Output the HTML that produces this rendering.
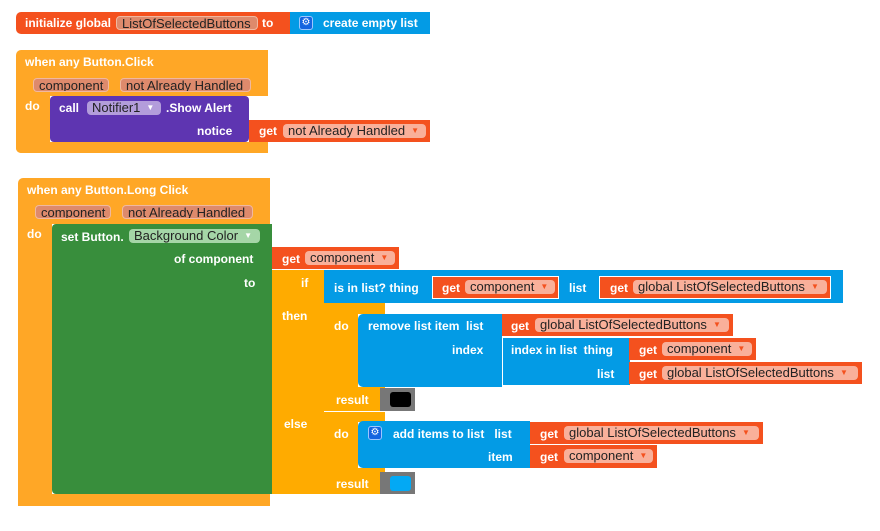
<!DOCTYPE html>
<html><head><meta charset="utf-8"><style>
body{margin:0;width:880px;height:531px;background:#fff;position:relative;overflow:hidden;font-family:"Liberation Sans",Arial,sans-serif;}
.b{position:absolute;}
.t{position:absolute;color:#fff;font-size:12px;font-weight:bold;line-height:14px;white-space:nowrap;}
.p{position:absolute;height:14px;border-radius:4px;font-size:13px;line-height:13px;color:#222;padding-left:5px;white-space:nowrap;box-sizing:border-box;overflow:hidden;}
.r{background:#F4511E;}
.bl{background:#039BE5;}
.or{background:#FFA726;}
.gd{background:#FFAB00;}
.pv{background:#5E35B1;}
.gr{background:#388E3C;}
.pr{background:#F9B09A;}
.pe{background:#DE8A6C;border:1px solid #F0B8A0;}
.ar{font-size:8px;color:#F4511E;margin-left:6px;position:relative;top:-2px}
.gear{position:absolute;width:14px;height:14px;background:#1565E0;border:1px solid #9cc6ff;border-radius:3px;box-sizing:border-box;color:#fff;font-size:10px;line-height:12px;text-align:center;}
</style></head><body>
<!-- init global -->
<div class="b r" style="left:16px;top:12px;width:274px;height:22px;border-radius:5px 0 0 5px"></div>
<div class="t" style="left:25px;top:16px">initialize global</div>
<div class="p pe" style="left:116px;top:16px;width:142px">ListOfSelectedButtons</div>
<div class="t" style="left:262px;top:16px">to</div>
<div class="b bl" style="left:290px;top:12px;width:140px;height:22px"></div>
<div class="gear" style="left:299px;top:16px">⚙</div>
<div class="t" style="left:323px;top:16px">create empty list</div>

<!-- Button.Click -->
<div class="b or" style="left:16px;top:50px;width:252px;height:46px;border-radius:5px 0 0 0"></div>
<div class="b or" style="left:16px;top:96px;width:34px;height:57px;border-radius:0 0 0 5px"></div>
<div class="b or" style="left:16px;top:142px;width:252px;height:11px;border-radius:0 0 0 5px"></div>
<div class="t" style="left:25px;top:55px">when any Button.Click</div>
<div class="p pe" style="left:33px;top:78px;width:76px">component</div>
<div class="p pe" style="left:120px;top:78px;width:131px">not Already Handled</div>
<div class="t" style="left:25px;top:99px">do</div>
<div class="b pv" style="left:50px;top:96px;width:199px;height:46px;border-radius:4px"></div>
<div class="t" style="left:59px;top:101px">call</div>
<div class="p" style="left:87px;top:101px;width:74px;background:#B39DDB">Notifier1<span class="ar" style="color:#fff">▼</span></div>
<div class="t" style="left:166px;top:101px">.Show Alert</div>
<div class="t" style="left:197px;top:124px">notice</div>
<div class="b r" style="left:249px;top:120px;width:181px;height:22px"></div>
<div class="t" style="left:259px;top:124px">get</div>
<div class="p pr" style="left:283px;top:124px;width:143px">not Already Handled<span class="ar">▼</span></div>

<!-- Long Click -->
<div class="b or" style="left:18px;top:178px;width:252px;height:46px;border-radius:5px 0 0 0"></div>
<div class="b or" style="left:18px;top:224px;width:34px;height:282px"></div>
<div class="b or" style="left:18px;top:494px;width:252px;height:12px;border-radius:0 0 0 5px"></div>
<div class="t" style="left:27px;top:183px">when any Button.Long Click</div>
<div class="p pe" style="left:35px;top:205px;width:76px">component</div>
<div class="p pe" style="left:122px;top:205px;width:131px">not Already Handled</div>
<div class="t" style="left:27px;top:227px">do</div>
<div class="b gr" style="left:52px;top:224px;width:220px;height:270px;border-radius:4px 0 0 4px"></div>
<div class="t" style="left:61px;top:230px">set Button.</div>
<div class="p" style="left:129px;top:229px;width:131px;background:#A5D6A7">Background Color<span class="ar" style="color:#fff">▼</span></div>
<div class="t" style="left:174px;top:252px">of component</div>
<div class="b r" style="left:272px;top:247px;width:127px;height:22px"></div>
<div class="t" style="left:282px;top:252px">get</div>
<div class="p pr" style="left:305px;top:251px;width:90px">component<span class="ar">▼</span></div>
<div class="t" style="left:244px;top:276px">to</div>

<!-- if -->
<div class="b gd" style="left:272px;top:270px;width:52px;height:224px"></div>
<div class="b gd" style="left:324px;top:303px;width:34px;height:191px"></div>
<div class="b gd" style="left:324px;top:303px;width:61px;height:11px"></div>
<div class="b gd" style="left:324px;top:387px;width:61px;height:35px"></div>
<div class="b gd" style="left:324px;top:468px;width:61px;height:26px"></div>
<div class="b" style="left:324px;top:411px;width:61px;height:1px;background:#fff"></div>
<div class="t" style="left:301px;top:276px">if</div>
<div class="t" style="left:282px;top:309px">then</div>
<div class="t" style="left:284px;top:417px">else</div>
<div class="b bl" style="left:324px;top:270px;width:519px;height:33px"></div>
<div class="t" style="left:334px;top:281px">is in list? thing</div>
<div class="b r" style="left:432px;top:276px;width:127px;height:23px;border:1px solid #fff;box-sizing:border-box"></div>
<div class="t" style="left:442px;top:281px">get</div>
<div class="p pr" style="left:465px;top:280px;width:90px">component<span class="ar">▼</span></div>
<div class="t" style="left:569px;top:281px">list</div>
<div class="b r" style="left:599px;top:276px;width:232px;height:23px;border:1px solid #fff;box-sizing:border-box"></div>
<div class="t" style="left:610px;top:281px">get</div>
<div class="p pr" style="left:633px;top:280px;width:194px">global ListOfSelectedButtons<span class="ar">▼</span></div>

<!-- then do -->
<div class="t" style="left:334px;top:319px">do</div>
<div class="b bl" style="left:358px;top:314px;width:144px;height:73px;border-radius:5px 0 0 5px"></div>
<div class="t" style="left:368px;top:319px">remove list item &nbsp;list</div>
<div class="t" style="left:452px;top:343px">index</div>
<div class="b r" style="left:502px;top:314px;width:231px;height:22px"></div>
<div class="t" style="left:511px;top:319px">get</div>
<div class="p pr" style="left:535px;top:318px;width:194px">global ListOfSelectedButtons<span class="ar">▼</span></div>
<div class="b bl" style="left:502px;top:338px;width:127px;height:47px;border-left:1px solid #fff"></div>
<div class="t" style="left:511px;top:343px">index in list &nbsp;thing</div>
<div class="t" style="left:597px;top:367px">list</div>
<div class="b r" style="left:629px;top:338px;width:127px;height:22px"></div>
<div class="t" style="left:639px;top:343px">get</div>
<div class="p pr" style="left:662px;top:342px;width:90px">component<span class="ar">▼</span></div>
<div class="b r" style="left:629px;top:362px;width:233px;height:22px"></div>
<div class="t" style="left:639px;top:367px">get</div>
<div class="p pr" style="left:662px;top:366px;width:196px">global ListOfSelectedButtons<span class="ar">▼</span></div>
<div class="t" style="left:336px;top:393px">result</div>
<div class="b" style="left:380px;top:388px;width:35px;height:23px;background:#777"></div>
<div class="b" style="left:390px;top:392px;width:21px;height:15px;background:#000;border-radius:3px"></div>

<!-- else do -->
<div class="t" style="left:334px;top:427px">do</div>
<div class="b bl" style="left:358px;top:421px;width:172px;height:47px;border-radius:5px 0 0 5px"></div>
<div class="gear" style="left:368px;top:426px">⚙</div>
<div class="t" style="left:393px;top:427px">add items to list &nbsp; list</div>
<div class="t" style="left:488px;top:450px">item</div>
<div class="b r" style="left:530px;top:422px;width:233px;height:22px"></div>
<div class="t" style="left:540px;top:427px">get</div>
<div class="p pr" style="left:564px;top:426px;width:195px">global ListOfSelectedButtons<span class="ar">▼</span></div>
<div class="b r" style="left:530px;top:445px;width:127px;height:23px"></div>
<div class="t" style="left:540px;top:450px">get</div>
<div class="p pr" style="left:564px;top:449px;width:89px">component<span class="ar">▼</span></div>
<div class="t" style="left:336px;top:477px">result</div>
<div class="b" style="left:380px;top:472px;width:35px;height:22px;background:#777"></div>
<div class="b" style="left:390px;top:476px;width:21px;height:15px;background:#03A9F4;border-radius:3px"></div>
</body></html>
